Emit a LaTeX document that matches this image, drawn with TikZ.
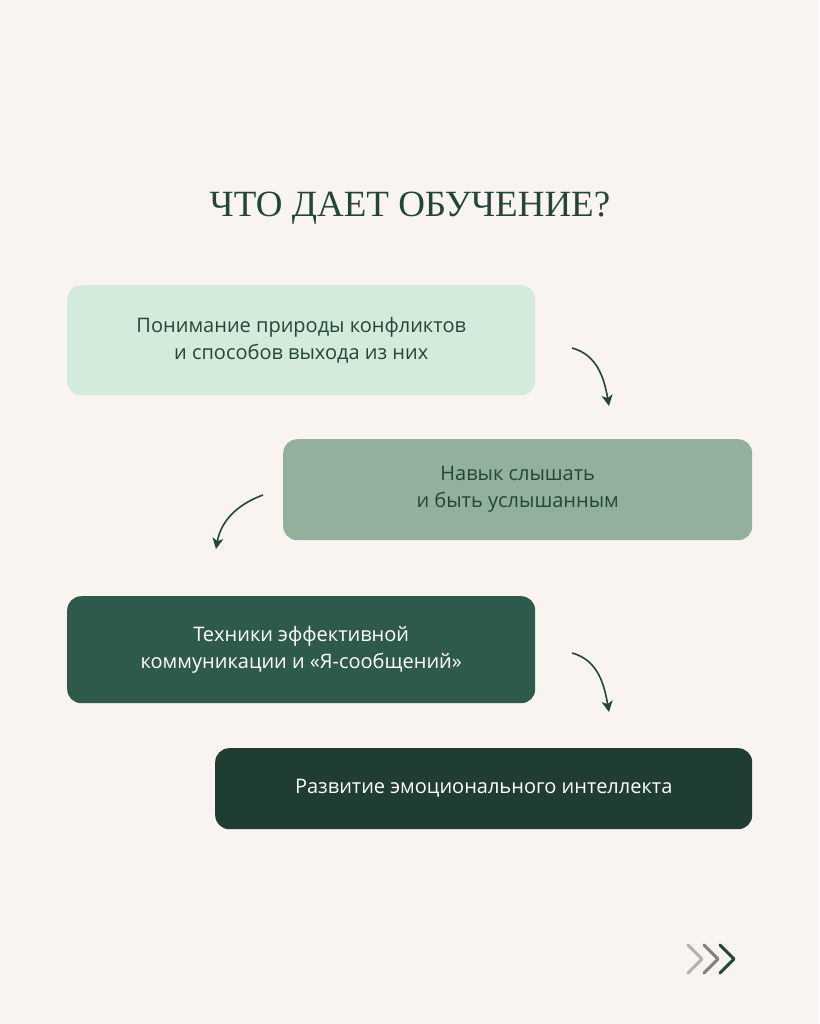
\documentclass[tikz,border=0pt]{standalone}
\usepackage{fontspec}
\setmainfont{Open Sans}
\newfontfamily\titlefont{Liberation Serif}
\usetikzlibrary{arrows.meta,calc}
\definecolor{bgpink}{HTML}{FAF4F1}
\definecolor{mintbox}{HTML}{D4EBDB}
\definecolor{sagebox}{HTML}{93B09C}
\definecolor{pinebox}{HTML}{2E5A4B}
\definecolor{forestbox}{HTML}{1F3D33}
\definecolor{inkgreen}{HTML}{23463A}
\tikzset{
  stepbox/.style={rounded corners=14pt, anchor=north west, align=center,
    font=\fontsize{20}{27}\selectfont, inner sep=0pt},
  curl/.style={draw=inkgreen, line width=1.6pt, -{Stealth[length=11pt,width=11pt,inset=3pt]}},
  chev/.style={line width=3pt, line cap=round, line join=round}
}
\begin{document}
\begin{tikzpicture}[x=1pt,y=-1pt]
\fill[bgpink] (0,0) rectangle (819,1024);
\useasboundingbox (0,0) rectangle (819,1024);
%title
\node[text=inkgreen, font=\titlefont\fontsize{37}{40}\selectfont] (title) at (410,208) {ЧТО ДАЕТ ОБУЧЕНИЕ?};
%boxes
\node[stepbox, fill=mintbox, text=inkgreen, minimum width=468pt, minimum height=110pt] (b1) at (67,285)
  {Понимание природы конфликтов\\и способов выхода из них};
\node[stepbox, fill=sagebox, text=inkgreen, minimum width=469pt, minimum height=101pt] (b2) at (283,439)
  {Навык слышать\\и быть услышанным};
\node[stepbox, fill=pinebox, text=white, minimum width=468pt, minimum height=107pt] (b3) at (67,596)
  {Техники эффективной\\коммуникации и «Я-сообщений»};
\node[stepbox, fill=forestbox, text=white, minimum width=537pt, minimum height=81pt] (b4) at (215,748)
  {Развитие эмоционального интеллекта};
%arrows
\coordinate (a1s) at (572,348); \coordinate (a1e) at (609,406);
\coordinate (a2s) at (263,495); \coordinate (a2e) at (216,549);
\coordinate (a3s) at (572,653); \coordinate (a3e) at (609,712);
\draw[curl] (a1s) to[out=-15, in=100] (a1e);
\draw[curl] (a2s) to[out=200, in=80] (a2e);
\draw[curl] (a3s) to[out=-15, in=100] (a3e);
%chevrons
\coordinate (ch) at (688,945);
\foreach \i/\c in {0/black!30, 1/black!50, 2/inkgreen}
  \draw[chev, draw=\c] ($(ch)+(16*\i,0)$) -- ++(14,14) -- ++(-14,14);
\end{tikzpicture}
\end{document}
